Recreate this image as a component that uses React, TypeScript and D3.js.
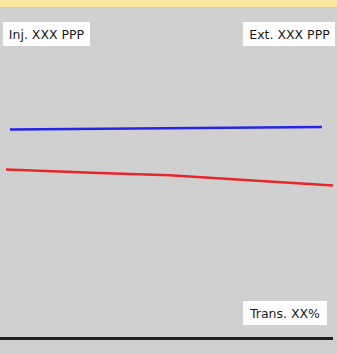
import React from "react";
import * as d3 from "d3";

const W = 337;
const H = 354;

const blueX = [1.2, 96.6];
const blueY = [63.4, 64.1];
const redX = [0, 28.5, 50, 100];
const redY = [52.1, 51.1, 50.5, 47.6];

const labels = ["Inj. XXX PPP", "Ext. XXX PPP", "Trans. XX%"];

export default function App() {
  const x = d3.scaleLinear().domain([0, 100]).range([6, 333]);
  const y = d3.scaleLinear().domain([0, 100]).range([354, 0]);
  const line = d3
    .line<[number, number]>()
    .x((d) => x(d[0]))
    .y((d) => y(d[1]));
  const blue = blueX.map((v, i) => [v, blueY[i]] as [number, number]);
  const red = redX.map((v, i) => [v, redY[i]] as [number, number]);
  const font = "DejaVu Sans, sans-serif";
  return (
    <svg
      width={W}
      height={H}
      style={{ position: "absolute", left: 0, top: 0, display: "block" }}
    >
      <rect x={0} y={0} width={W} height={H} fill="#d0d0d0" />
      <rect x={0} y={0} width={W} height={7} fill="#fce79e" />
      <path d={line(blue) || ""} fill="none" stroke="#2525e6" strokeWidth={2.5} />
      <path d={line(red) || ""} fill="none" stroke="#e6262a" strokeWidth={2.5} />
      <rect x={0} y={337} width={333} height={3} fill="#222" />
      <rect x={3} y={22} width={87} height={24} fill="#fff" />
      <text x={46.5} y={38.5} textAnchor="middle" fontFamily={font} fontSize={12.5} fill="#1a1a1a">
        {labels[0]}
      </text>
      <rect x={243} y={22} width={92} height={24} fill="#fff" />
      <text x={289.5} y={38.5} textAnchor="middle" fontFamily={font} fontSize={12.5} fill="#1a1a1a">
        {labels[1]}
      </text>
      <rect x={243} y={301} width={84} height={24} fill="#fff" />
      <text x={285} y={317.5} textAnchor="middle" fontFamily={font} fontSize={12.5} fill="#1a1a1a">
        {labels[2]}
      </text>
    </svg>
  );
}
